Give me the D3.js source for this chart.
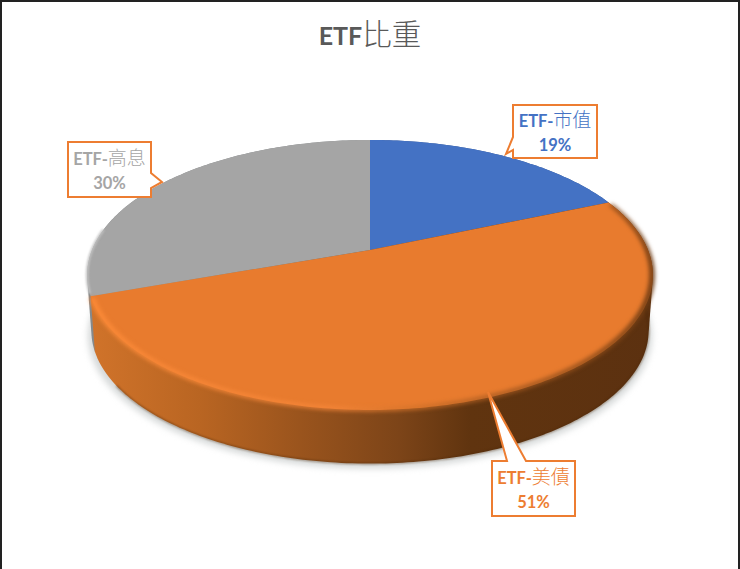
<!DOCTYPE html>
<html>
<head>
<meta charset="utf-8">
<script src="https://cdn.jsdelivr.net/npm/d3@7/dist/d3.min.js"></script>
<style>
  html, body { margin: 0; padding: 0; background: #fff; }
  text { font-family: Lato, "Noto Sans CJK TC", sans-serif; text-anchor: middle; font-weight: 700; }
  .cjk { font-family: "Noto Sans CJK TC", sans-serif; font-weight: 300; }
</style>
</head>
<body>
<div id="chart"></div>
<script>
const categories = ["ETF-市值", "ETF-美債", "ETF-高息"];
const shares = [18.6, 51.0, 30.4];
const sliceColors = ["#4472c4", "#e87b2e", "#a5a5a5"];
const labelColors = ["#4472c4", "#ed7d31", "#a5a5a5"];
const titleText = ["ETF", "比重"];

const width = 740;
const height = 569;

// callout boxes, [x0, y0, x1, y1], then tail as base and tip points
const callouts = [
    { box: [513, 105, 597, 158], tail: [[513, 137], [506, 154], [513, 150]] },
    { box: [492, 461, 575, 516], tail: [[526, 461], [488, 392], [507, 461]] },
    { box: [68, 142, 151, 197], tail: [[151, 173], [162, 182], [151, 188]] }
];

const svg = d3.select("#chart").append("svg")
    .attr("width", width)
    .attr("height", height)
    .style("display", "block");

const defs = svg.append("defs");

function blur(id, dev) {
    defs.append("filter")
        .attr("id", id)
        .attr("filterUnits", "userSpaceOnUse")
        .attr("x", 0).attr("y", 0)
        .attr("width", width).attr("height", height)
        .attr("color-interpolation-filters", "sRGB")
        .append("feGaussianBlur")
        .attr("stdDeviation", dev);
}
blur("soft", 2.2);
blur("thin", 1);
blur("shadow", 3);

function gradient(id, stops) {
    const g = defs.append("linearGradient")
        .attr("id", id)
        .attr("gradientUnits", "userSpaceOnUse")
        .attr("x1", 87).attr("x2", 653)
        .attr("y1", 0).attr("y2", 0);
    stops.forEach(s => g.append("stop")
        .attr("offset", (s[0] - 87) / 566)
        .attr("stop-color", s[1]));
}
gradient("sideOrange", [[92, "#d0732a"], [200, "#b96522"], [300, "#9a541d"], [400, "#7c4418"], [470, "#60340f"], [653, "#5c3110"]]);
gradient("rimOrange", [[92, "#fb8a38"], [330, "#f6873a"], [420, "#cf7028"], [500, "#a35820"], [600, "#8a4a18"], [653, "#6e3b13"]]);

// perspective disc: pie centre sits above the middle of the ellipse
const tilt = 0.185;
const xScale = d3.scaleLinear().domain([-1, 1]).range([370 - 278, 370 + 278]);
const yScale = d3.scaleLinear().domain([-1, 1]).range([250 + 130.4, 250 - 130.4]);
const depth = 55;
const baseShrink = 0.985;

function project(angle, r = 1, base = false) {
    const u = Math.sin(angle) * r;
    const v = Math.cos(angle) * r;
    const w = 1 + tilt * v;
    const s = base ? baseShrink : 1;
    const x = 370 + (xScale(u / w) - 370) * s;
    const y = 250 + (yScale(v / w) - 250) * s + (base ? depth + 1 : 0);
    return [x, y];
}

function arcPoints(a0, a1, base = false, r = 1) {
    const n = Math.ceil((a1 - a0) * 60);
    return d3.range(n + 1).map(i => project(a0 + (a1 - a0) * i / n, r, base));
}

const arcs = d3.pie().sort(null).startAngle(0).endAngle(2 * Math.PI)(shares);
const line = d3.line();
const closed = d3.line().curve(d3.curveLinearClosed);

// background and window border
svg.append("rect").attr("width", width).attr("height", height).attr("fill", "#fff");
svg.append("path")
    .attr("d", `M1,${height}V1H${width - 1}V${height}`)
    .attr("fill", "none")
    .attr("stroke", "#222")
    .attr("stroke-width", 2);

// soft shadow under the disc
const full = arcPoints(0, 2 * Math.PI, true).map(p => [370 + (p[0] - 370) * 1.012, p[1] + 5]);
svg.append("path")
    .attr("d", closed(full))
    .attr("fill", "#d6d9d9")
    .attr("filter", "url(#shadow)");

// side walls
const sideFill = ["#36568f", "url(#sideOrange)", "#85898b"];
[2, 0, 1].forEach(i => {
    const a = arcs[i];
    const hull = d3.polygonHull(arcPoints(a.startAngle, a.endAngle).concat(arcPoints(a.startAngle, a.endAngle, true)));
    svg.append("path").attr("d", closed(hull)).attr("fill", sideFill[i]);
});

// dark line along the bottom edge of the wall
svg.append("path")
    .attr("d", line(arcPoints(arcs[1].startAngle + 0.15, arcs[1].endAngle - 0.25, true)))
    .attr("fill", "none")
    .attr("stroke", "#4a2809")
    .attr("stroke-width", 1.2)
    .attr("stroke-opacity", 0.7)
    .attr("filter", "url(#thin)");

// top faces
const center = project(0, 0);
arcs.forEach((a, i) => {
    svg.append("path")
        .attr("d", closed([center].concat(arcPoints(a.startAngle, a.endAngle))))
        .attr("fill", sliceColors[i]);
});

// bevel along the rim of the orange and gray slices, a blurred band instead of a stroke
const orangeArc = arcs[1];
const band = arcPoints(orangeArc.startAngle + 0.02, orangeArc.endAngle - 0.01, false, 1.006)
    .concat(arcPoints(orangeArc.startAngle + 0.02, orangeArc.endAngle - 0.01, false, 0.988).reverse());
svg.append("path")
    .attr("d", closed(band))
    .attr("fill", "url(#rimOrange)")
    .attr("filter", "url(#soft)");
svg.append("path")
    .attr("d", line(arcPoints(arcs[2].startAngle + 0.02, arcs[2].startAngle + 0.5)))
    .attr("fill", "none")
    .attr("stroke", "#c2c2c2")
    .attr("stroke-width", 2.5)
    .attr("filter", "url(#thin)");

// callouts
arcs.forEach((a, i) => {
    const c = callouts[i];
    const [x0, y0, x1, y1] = c.box;
    const g = svg.append("g");
    g.append("path")
        .attr("d", closed(boxOutline(c)))
        .attr("fill", "#fff")
        .attr("stroke", "#ed7d31")
        .attr("stroke-width", 2)
        .attr("stroke-linejoin", "miter");

    const cx = (x0 + x1) / 2;
    const parts = categories[i].split("-");
    const t = g.append("text")
        .attr("x", cx)
        .attr("y", y0 + (y1 - y0) * 0.42)
        .attr("fill", labelColors[i])
        .style("font-size", "16.5px");
    t.append("tspan").text(parts[0] + "-");
    t.append("tspan").attr("class", "cjk").style("font-size", "19px").text(parts[1]);

    g.append("text")
        .attr("x", cx)
        .attr("y", y0 + (y1 - y0) * 0.86)
        .attr("fill", labelColors[i])
        .style("font-size", "16.5px")
        .text(Math.round(a.data) + "%");
});

// box outline with the tail spliced into whichever edge it leaves from
function boxOutline(c) {
    const [x0, y0, x1, y1] = c.box;
    const t = c.tail;
    if (t[0][1] === y0) return [[x0, y0], t[2], t[1], t[0], [x1, y0], [x1, y1], [x0, y1]];
    if (t[0][0] === x1) return [[x0, y0], [x1, y0], t[0], t[1], t[2], [x1, y1], [x0, y1]];
    return [[x0, y0], [x1, y0], [x1, y1], [x0, y1], t[2], t[1], t[0]];
}

// title
const title = svg.append("text")
    .attr("x", 370)
    .attr("y", 45)
    .attr("fill", "#595959")
    .style("font-size", "25px");
title.append("tspan").text(titleText[0]);
title.append("tspan").attr("class", "cjk").style("font-size", "29.5px").text(titleText[1]);
</script>
</body>
</html>
